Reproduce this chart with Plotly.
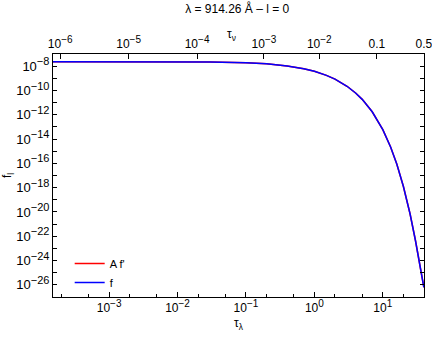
import plotly.graph_objects as go

# valeurs
tau_lambda = [1.5e-4, 1e-3, 0.01, 0.03, 0.1, 0.2, 0.4, 0.7, 1.0, 1.5, 2.0, 3.0,
              4.0, 5.0, 7.0, 10.0, 13.0, 16.0, 20.0, 25.0, 30.0, 35.0, 39.8]
log_f = [-7.63, -7.631, -7.64, -7.658, -7.723, -7.812, -7.979, -8.21, -8.425, -8.758,
         -9.071, -9.655, -10.206, -10.735, -11.754, -13.222, -14.651, -16.055, -17.903,
         -20.15, -22.35, -24.45, -26.2]
f_l = [10.0 ** v for v in log_f]


def pow10(e, s=10):
    return f"10<sup><span style='font-size:{s}px'>{e}</span></sup>"


# axe du bas
x_ticks = [1e-3, 1e-2, 1e-1, 1e0, 1e1]
x_labels = [pow10("−3"), pow10("−2"), pow10("−1"), pow10("0"), pow10("1")]

# axe du haut (tau_nu) : positions en tau_lambda
top_ticks = [1.93e-4, 1.93e-3, 1.93e-2, 0.183, 1.18, 8.17, 39.8]
top_labels = [pow10("−6"), pow10("−5"), pow10("−4"), pow10("−3"),
              pow10("−2"), "0.1", "0.5"]

y_ticks = [10.0 ** (-k) for k in range(8, 27, 2)]
y_labels = [pow10(f"−{k}", 11) for k in range(8, 27, 2)]
y_minor = [10.0 ** (-k) for k in range(7, 28)]

x_range = [-3.82, 1.602]

fig = go.Figure()

fig.add_trace(go.Scatter(
    x=tau_lambda, y=f_l, mode="lines", name="A f'",
    line=dict(color="red", width=1.5),
    xaxis="x", yaxis="y"
))
fig.add_trace(go.Scatter(
    x=tau_lambda, y=f_l, mode="lines", name="f",
    line=dict(color="blue", width=1.5),
    xaxis="x2", yaxis="y"
))

font = dict(family="Liberation Sans, Arial, sans-serif", size=12, color="black")

fig.update_layout(
    width=432, height=338,
    margin=dict(l=53, r=8, t=54, b=41, autoexpand=False),
    paper_bgcolor="white", plot_bgcolor="white",
    font=font,
    title=dict(text="λ = 914.26 Å – l = 0", x=0.549, xanchor="center",
               y=0.975, yanchor="middle", font=dict(size=12), automargin=False),
    showlegend=True,
    legend=dict(x=0.045, y=0.0, xanchor="left", yanchor="bottom",
                bgcolor="rgba(0,0,0,0)", font=dict(size=11)),
    xaxis=dict(
        type="log", range=x_range, automargin=False,
        tickmode="array", tickvals=x_ticks, ticktext=x_labels,
        ticks="inside", ticklen=5, tickcolor="black",
        minor=dict(ticks="inside", ticklen=3, dtick="D2", tickcolor="black"),
        showline=True, linecolor="black", linewidth=1, mirror=True,
        showgrid=False, zeroline=False,
        title=dict(text="τ<sub>λ</sub>", standoff=4, font=dict(size=12)),
    ),
    xaxis2=dict(
        type="log", range=x_range, overlaying="x", side="top", anchor="y",
        automargin=False, ticklabeloverflow="allow", ticklabelstandoff=3,
        tickmode="array", tickvals=top_ticks, ticktext=top_labels,
        ticks="inside", ticklen=5, tickcolor="black",
        showline=False, showgrid=False, zeroline=False,
    ),
    yaxis=dict(
        type="log", range=[-27, -7], automargin=False,
        tickmode="array", tickvals=y_ticks, ticktext=y_labels,
        tickfont=dict(size=13),
        ticks="inside", ticklen=4, tickcolor="black",
        minor=dict(ticks="inside", ticklen=4, tickvals=y_minor, tickcolor="black"),
        showline=True, linecolor="black", linewidth=1, mirror="ticks",
        showgrid=False, zeroline=False,
        title=dict(text="f<sub>l</sub>", standoff=2, font=dict(size=12)),
    ),
)

fig.add_annotation(text="τ<sub>ν</sub>", xref="paper", yref="paper",
                   x=0.48, y=1.12, showarrow=False, font=dict(size=12))

# la page a une marge par défaut de 8 px : on la retire
fig.write_html("out.html", config={"displayModeBar": False},
               post_script="document.body.style.margin='0';")
